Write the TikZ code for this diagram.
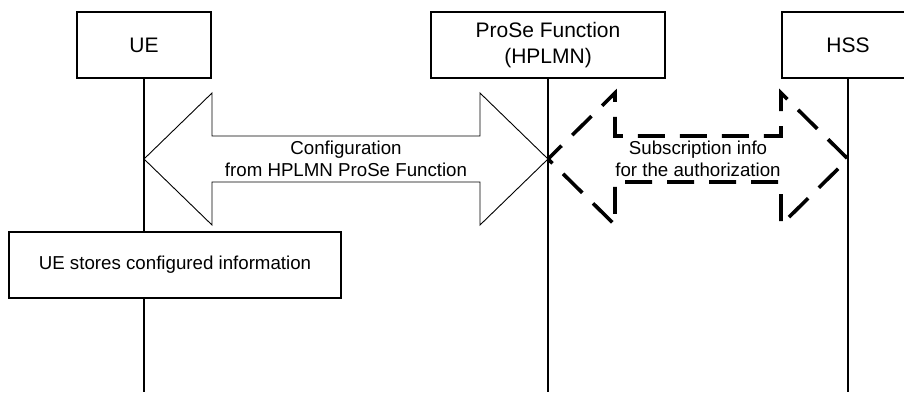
\documentclass[tikz,border=0pt]{standalone}
\usepackage{fontspec}
\setmainfont{Liberation Sans}
\usetikzlibrary{calc,positioning}

\tikzset{
  entity/.style={draw, line width=1.3pt, fill=white, minimum height=66pt, align=center, font=\fontsize{21}{26}\selectfont},
  action/.style={draw, line width=1.3pt, fill=white, minimum height=66pt, font=\fontsize{18.7}{22}\selectfont},
  lifeline/.style={line width=1.1pt},
  hollow/.style={draw, line width=0.9pt, fill=white},
  dashbig/.style={draw, line width=3.6pt, dash pattern=on 27pt off 15pt, dash phase=8pt},
  msg/.style={align=center, font=\fontsize{18.7}{22.5}\selectfont},
}

\begin{document}
\begin{tikzpicture}[x=1pt,y=-1pt]
\useasboundingbox (0,0) rectangle (904,392);
\node[entity, minimum width=134pt] (ue) at (144,45) {UE};
\node[entity, minimum width=234pt] (prose) at (548,45) {ProSe Function\\(HPLMN)};
\node[entity, minimum width=132pt] (hss) at (848,45) {HSS};
\coordinate (bot) at (0,392);
\draw[lifeline] (ue) -- (ue |- bot);
\draw[lifeline] (prose) -- (prose |- bot);
\draw[lifeline] (hss) -- (hss |- bot);
\coordinate (c1) at (ue |- 0,159);
\coordinate (c2) at (prose |- 0,159);
\coordinate (c3) at (hss |- 0,159);
% configuration from the ProSe Function
\draw[hollow] (c1) -- ++(68,-66) -- ++(0,43) -- ($(c2)+(-68,-23)$) -- ++(0,-43) -- (c2)
  -- ++(-68,66) -- ++(0,-43) -- ($(c1)+(68,23)$) -- ++(0,43) -- cycle;
\node[msg] (cfg) at ($(c1)!0.5!(c2)$) {Configuration\\from HPLMN ProSe Function};
% subscription info from the HSS
\draw[dashbig] (c2) -- ++(67,-66) -- ++(0,43) -- ($(c3)+(-67,-23)$) -- ++(0,-43) -- (c3)
  -- ++(-67,66) -- ++(0,-43) -- ($(c2)+(67,23)$) -- ++(0,43) -- cycle;
\node[msg] (sub) at ($(c2)!0.5!(c3)$) {Subscription info\\for the authorization};
\node[action, minimum width=332pt] (store) at (175,265) {UE stores configured information};
\end{tikzpicture}
\end{document}
